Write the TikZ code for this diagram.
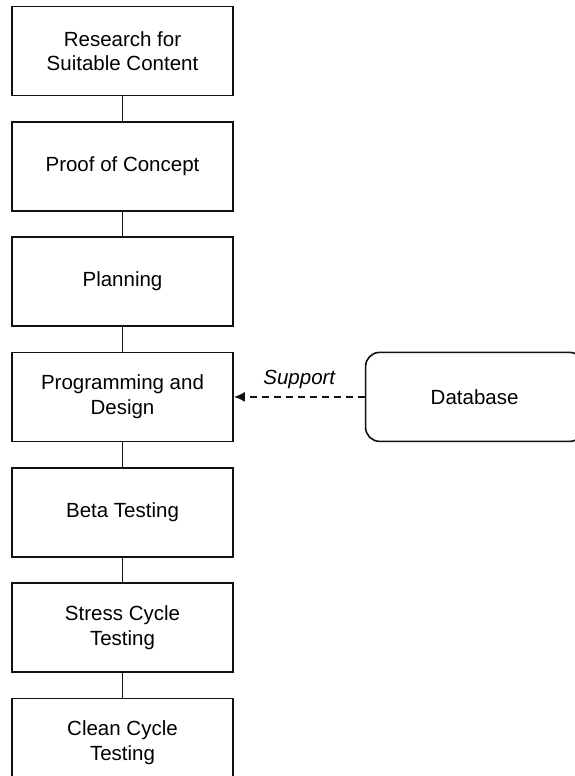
\documentclass[tikz,border=0pt]{standalone}
\usepackage{fontspec}
\setmainfont{Liberation Sans}
\usetikzlibrary{arrows.meta,positioning}
\definecolor{ink}{HTML}{111111}

\begin{document}
\begin{tikzpicture}[
  x=1pt, y=-1pt,
  font=\fontsize{20.5}{24.5}\selectfont,
  >=Latex,
  node distance=24.7pt,
  stage/.style={draw=ink, line width=1.6pt, align=center,
    minimum width=221pt, minimum height=89pt, inner sep=0pt},
  store/.style={stage, rounded corners=14pt, minimum width=218pt},
  link/.style={draw=ink, line width=1.6pt},
  support/.style={-{Latex[length=11pt,width=10pt]}, dash pattern=on 7pt off 5pt,
    line width=2pt, draw=ink}
]
\useasboundingbox (0,0) rectangle (574,776);
\fill[white] (0,0) rectangle (574,776);

\node[stage] (research) at (122.5,51) {Research for\\Suitable Content};
\node[stage, below=of research] (proof) {Proof of Concept};
\node[stage, below=of proof] (planning) {Planning};
\node[stage, below=of planning] (prog) {Programming and\\Design};
\node[stage, below=of prog] (beta) {Beta Testing};
\node[stage, below=of beta] (stress) {Stress Cycle\\Testing};
\node[stage, below=of stress] (clean) {Clean Cycle\\Testing};

\node[store, right=131pt of prog] (db) {Database};

\foreach \a/\b in {research/proof, proof/planning, planning/prog,
                   prog/beta, beta/stress, stress/clean}
  \draw[link] (\a.south) -- (\b.north);

\draw[support] (db.west) -- (prog.east)
  node[midway, above=4pt, font=\fontsize{20.5}{24.5}\selectfont\itshape] (lbl) {Support};

\end{tikzpicture}
\end{document}
